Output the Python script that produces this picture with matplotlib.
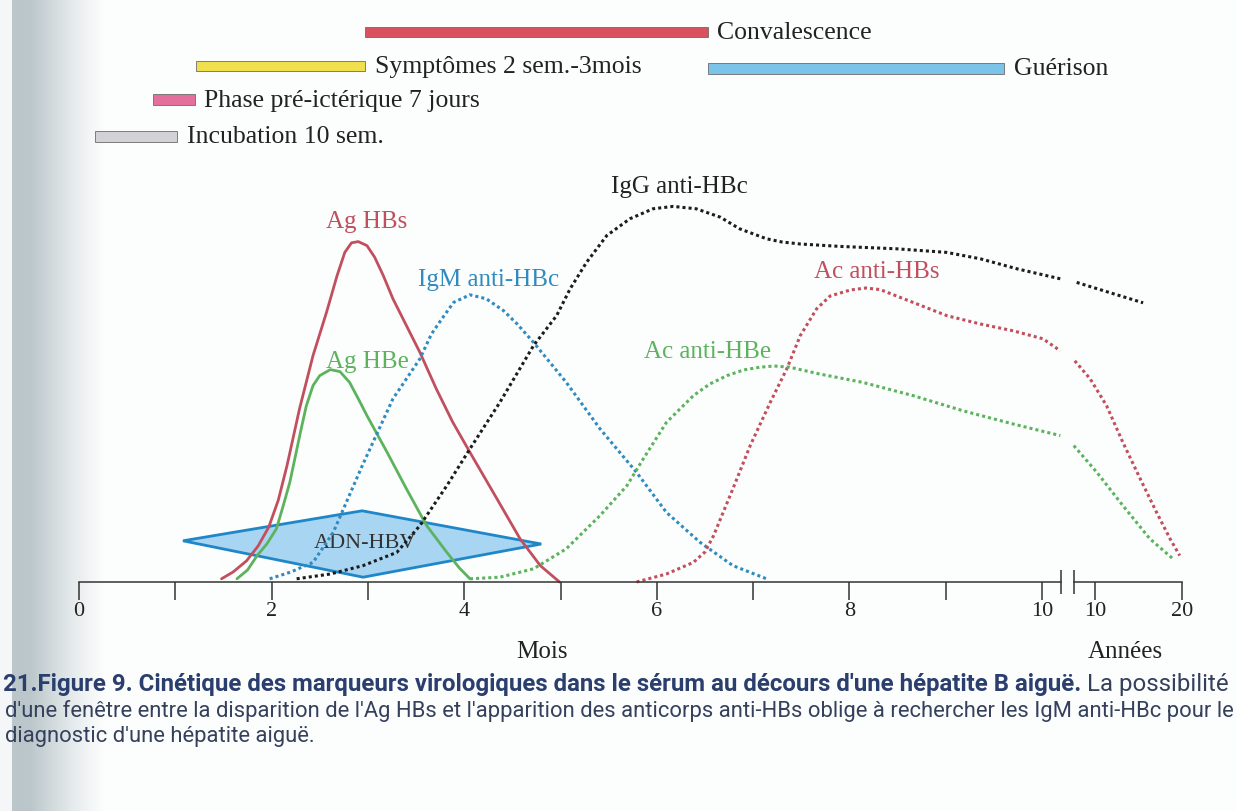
import matplotlib
matplotlib.use("Agg")
import matplotlib.pyplot as plt
import numpy as np
from matplotlib import font_manager as fm

# --- data (x: position on time axis in months, y: relative level) ---
ag_hbs_x = [1.48, 1.60, 1.74, 1.86, 1.97, 2.07, 2.16, 2.29, 2.43, 2.57, 2.68, 2.76, 2.83, 2.90, 2.99,
            3.07, 3.16, 3.26, 3.40, 3.54, 3.71, 3.88, 4.06, 4.34, 4.58, 4.79, 4.99]
ag_hbs_y = [0.8, 2.5, 5.3, 9.0, 13.7, 20.5, 29.1, 43.3, 56.6, 67.4, 76.6, 82.4, 84.8, 85.1, 84.1,
            81.2, 76.6, 70.8, 64.1, 57.4, 48.3, 40.0, 32.4, 20.8, 10.8, 4.1, 0.0]

ag_hbe_x = [1.64, 1.75, 1.85, 1.95, 2.05, 2.12, 2.19, 2.30, 2.36, 2.43, 2.50, 2.61, 2.71, 2.81, 2.92,
            2.99, 3.20, 3.40, 3.61, 3.82, 3.95, 4.06]
ag_hbe_y = [0.8, 3.0, 6.6, 9.5, 13.3, 19.0, 25.0, 37.5, 44.0, 49.1, 51.6, 53.1, 52.6, 49.9, 44.9,
            41.6, 32.4, 23.3, 14.1, 7.4, 3.5, 0.8]

igm_x = [1.98, 2.20, 2.43, 2.64, 2.94, 3.26, 3.54, 3.66, 3.78, 3.89, 4.06, 4.23, 4.41, 4.55, 4.72,
         5.06, 5.41, 5.79, 6.10, 6.45, 6.79, 7.14]
igm_y = [0.8, 2.5, 4.9, 12.4, 29.0, 45.8, 55.8, 62.0, 66.2, 69.9, 71.8, 70.8, 67.8, 64.5, 59.9,
         49.9, 38.3, 27.4, 17.4, 9.9, 4.1, 0.8]

igg_x = [2.26, 2.61, 2.95, 3.30, 3.54, 3.82, 4.06, 4.37, 4.72, 4.96, 5.10, 5.27, 5.48, 5.72, 5.96,
         6.17, 6.41, 6.66, 6.86, 7.14, 7.30, 7.49, 7.90, 8.49, 9.01, 9.36, 9.74, 10.19]
igg_y = [0.8, 2.0, 4.1, 7.4, 14.1, 24.1, 33.3, 44.9, 59.1, 66.6, 73.3, 79.9, 86.6, 90.8, 93.3,
         93.9, 93.3, 91.2, 88.3, 85.8, 85.0, 84.5, 83.9, 83.3, 82.4, 80.8, 78.3, 75.8]
igg_tail_x = [10.36, 10.71, 11.05]
igg_tail_y = [74.9, 72.3, 69.8]

ac_hbs_x = [5.79, 6.10, 6.38, 6.50, 6.59, 6.79, 6.97, 7.18, 7.35, 7.49, 7.66, 7.80, 8.01, 8.17, 8.32,
            8.66, 9.01, 9.36, 9.70, 10.01, 10.19]
ac_hbs_y = [0.0, 2.0, 4.9, 7.5, 11.6, 23.3, 34.1, 45.0, 53.3, 61.6, 68.3, 71.5, 73.0, 73.5, 73.1,
            69.9, 66.6, 64.5, 62.8, 60.8, 57.8]
ac_hbs_tail_x = [10.34, 10.50, 10.67, 10.84, 11.02, 11.19, 11.33, 11.43]
ac_hbs_tail_y = [55.3, 50.8, 44.1, 34.9, 25.8, 17.4, 10.8, 6.6]

ac_hbe_x = [4.06, 4.37, 4.72, 5.06, 5.41, 5.69, 5.86, 6.10, 6.38, 6.55, 6.73, 6.90, 7.07, 7.22, 7.38,
            7.69, 8.14, 8.66, 9.18, 9.70, 10.19]
ac_hbe_y = [0.8, 1.2, 3.3, 8.3, 16.6, 24.1, 30.8, 39.9, 46.6, 49.5, 51.6, 53.0, 53.7, 54.0, 53.7,
            52.0, 49.9, 46.6, 42.8, 39.5, 36.6]
ac_hbe_tail_x = [10.33, 10.57, 10.84, 11.12, 11.36]
ac_hbe_tail_y = [34.1, 27.4, 19.1, 10.8, 5.8]

# ADN-HBV diamond: left, top, right, bottom
dna_x = [1.08, 2.94, 4.80, 2.95]
dna_y = [10.3, 17.8, 9.5, 1.2]

# clinical phases (start, end on the time axis, row level)
phase_names = ["Convalescence", "Symptômes 2 sem.-3mois", "Guérison",
               "Phase pré-ictérique 7 jours", "Incubation 10 sem."]
phase_start = [2.97, 1.22, 6.53, 0.765, 0.17]
phase_end = [6.53, 2.97, 9.61, 1.20, 1.02]
phase_level = [137.5, 129.0, 128.4, 120.6, 111.4]
phase_colors = ["#d9505f", "#f1e04e", "#7cc3ea", "#e46e9c", "#d2d1d5"]

month_ticks = list(range(0, 11))
month_labels = ["0", "", "2", "", "4", "", "6", "", "8", "", "10"]
year_ticks = [10, 20]
year_labels = ["10", "20"]

RED = "#c14f5e"
GREEN = "#5db35d"
BLUE = "#2f8bc0"
BLACK = "#1c1c1c"
SERIF = "Liberation Serif"

# axis geometry (months on the left, years after the break)
BREAK_L, BREAK_R = 10.2, 10.33
YEAR_POS10, YEAR_SCALE = 10.55, 0.09

W, H = 1237, 812
X0, X1 = -79 / 96.3, (W - 79) / 96.3
Y0, Y1 = (583 - H) / 4, 583 / 4

fig = plt.figure(figsize=(W / 100, H / 100), dpi=100)
fig.patch.set_facecolor("#fcfdfd")
ax = fig.add_axes([0, 0, 1, 1])
ax.set_xlim(X0, X1)
ax.set_ylim(Y0, Y1)
ax.axis("off")

# scanner shadow on the left edge
px = np.arange(0, 120)
shade = np.clip(1 - (px - 30) / 75, 0, 1) ** 1.3
shade[px < 12] = 0.12
grad = np.zeros((1, len(px), 4))
grad[..., 0] = 0.62
grad[..., 1] = 0.69
grad[..., 2] = 0.71
grad[..., 3] = shade * 0.7
ax.imshow(grad, extent=[X0, X0 + 120 / 96.3, Y0, Y1], aspect="auto", zorder=0)

# phase bars
for name, s, e, lv, c in zip(phase_names, phase_start, phase_end, phase_level, phase_colors):
    ax.barh(lv, e - s, left=s, height=2.6, color=c, edgecolor="#6b6b6b", linewidth=0.6, zorder=2)
    ax.text(e + 0.1, lv, name, fontsize=18.5, family=SERIF, color="#222222", va="center", ha="left")

# DNA diamond
ax.fill(dna_x, dna_y, facecolor="#a8d5f2", edgecolor="#1f86c8", linewidth=2.0, zorder=2)
ax.text(2.97, 9.9, "ADN-HBV", fontsize=16, family=SERIF, color="#333333", ha="center", va="center", zorder=3)

# markers
solid = dict(linewidth=2.0, solid_capstyle="round", solid_joinstyle="round", zorder=4)
dots = dict(linewidth=2.2, linestyle=(0, (1, 1)), dash_capstyle="butt", zorder=4)
ax.plot(ag_hbs_x, ag_hbs_y, color=RED, **solid)
ax.plot(ag_hbe_x, ag_hbe_y, color=GREEN, **solid)
ax.plot(igm_x, igm_y, color=BLUE, **dots)
ax.plot(igg_x, igg_y, color=BLACK, **dots)
ax.plot(igg_tail_x, igg_tail_y, color=BLACK, **dots)
ax.plot(ac_hbs_x, ac_hbs_y, color=RED, **dots)
ax.plot(ac_hbs_tail_x, ac_hbs_tail_y, color=RED, **dots)
ax.plot(ac_hbe_x, ac_hbe_y, color=GREEN, **dots)
ax.plot(ac_hbe_tail_x, ac_hbe_tail_y, color=GREEN, **dots)

lab = dict(fontsize=18, family=SERIF, ha="center", va="center")
ax.text(2.99, 90.3, "Ag HBs", color=RED, **lab)
ax.text(3.00, 55.3, "Ag HBe", color=GREEN, **lab)
ax.text(4.25, 75.8, "IgM anti-HBc", color=BLUE, **lab)
ax.text(6.23, 99.1, "IgG anti-HBc", color="#222222", **lab)
ax.text(6.53, 57.8, "Ac anti-HBe", color=GREEN, **lab)
ax.text(8.28, 77.8, "Ac anti-HBs", color=RED, **lab)

# time axis: months part
axis_rect = [0, (H - 583) / H, 1, 0.02]
tax = fig.add_axes(axis_rect)
tax.patch.set_visible(False)
tax.set_xlim(X0, X1)
tax.set_yticks([])
for sp in ["top", "left", "right"]:
    tax.spines[sp].set_visible(False)
tax.spines["bottom"].set_bounds(0, BREAK_L)
tax.spines["bottom"].set_color("#333333")
tax.spines["bottom"].set_linewidth(1.1)
tax.set_xticks(month_ticks, month_labels, fontsize=16, family=SERIF)
tax.tick_params(axis="x", direction="out", length=13, width=1.1, color="#333333", pad=1, labelcolor="#222222")

# years part
yax = fig.add_axes(axis_rect)
yax.patch.set_visible(False)
yax.set_xlim(10 + (X0 - YEAR_POS10) / YEAR_SCALE, 10 + (X1 - YEAR_POS10) / YEAR_SCALE)
yax.set_yticks([])
for sp in ["top", "left", "right"]:
    yax.spines[sp].set_visible(False)
yax.spines["bottom"].set_bounds(10 + (BREAK_R - YEAR_POS10) / YEAR_SCALE, 20)
yax.spines["bottom"].set_color("#333333")
yax.spines["bottom"].set_linewidth(1.1)
yax.set_xticks(year_ticks, year_labels, fontsize=16, family=SERIF)
yax.tick_params(axis="x", direction="out", length=13, width=1.1, color="#333333", pad=1, labelcolor="#222222")

# break marks
ax.plot([BREAK_L, BREAK_R], [0, 0], linestyle="none", marker="|", markersize=17,
        markeredgewidth=1.1, color="#333333", zorder=5)

ax.text(4.81, -17.3, "Mois", fontsize=18, family=SERIF, color="#222222", ha="center", va="center")
ax.text(10.86, -17.3, "Années", fontsize=18, family=SERIF, color="#222222", ha="center", va="center")

# caption
names = {f.name for f in fm.fontManager.ttflist}
cap_font = next((f for f in ["Liberation Sans Narrow", "Roboto", "Lato"] if f in names), "DejaVu Sans")
bold_txt = "21.Figure 9. Cinétique des marqueurs virologiques dans le sérum au décours d'une hépatite B aiguë."
reg_txt = " La possibilité"
line2 = ("d'une fenêtre entre la disparition de l'Ag HBs et l'apparition des anticorps anti-HBs "
         "oblige à rechercher les IgM anti-HBc pour le")
line3 = "diagnostic d'une hépatite aiguë."

renderer = fig.canvas.get_renderer()


def text_width(t):
    return t.get_window_extent(renderer).width


y1, y2, y3 = 1 - 685 / H, 1 - 711 / H, 1 - 737 / H
tb = fig.text(3 / W, y1, bold_txt, fontsize=10, family=cap_font, weight="bold", color="#2b3f6e", va="center")
tr = fig.text(0, y1, reg_txt, fontsize=10, family=cap_font, color="#35415c", va="center")
scale1 = 1232 / (text_width(tb) + text_width(tr))
tb.set_fontsize(10 * scale1)
tr.set_fontsize(10 * scale1)
tr.set_x((3 + text_width(tb)) / W)

t2 = fig.text(5 / W, y2, line2, fontsize=10, family=cap_font, color="#35415c", va="center")
scale2 = 1227 / text_width(t2)
t2.set_fontsize(10 * scale2)
fig.text(5 / W, y3, line3, fontsize=10 * scale2, family=cap_font, color="#35415c", va="center")

fig.savefig("out.png", dpi=100, facecolor=fig.get_facecolor())
